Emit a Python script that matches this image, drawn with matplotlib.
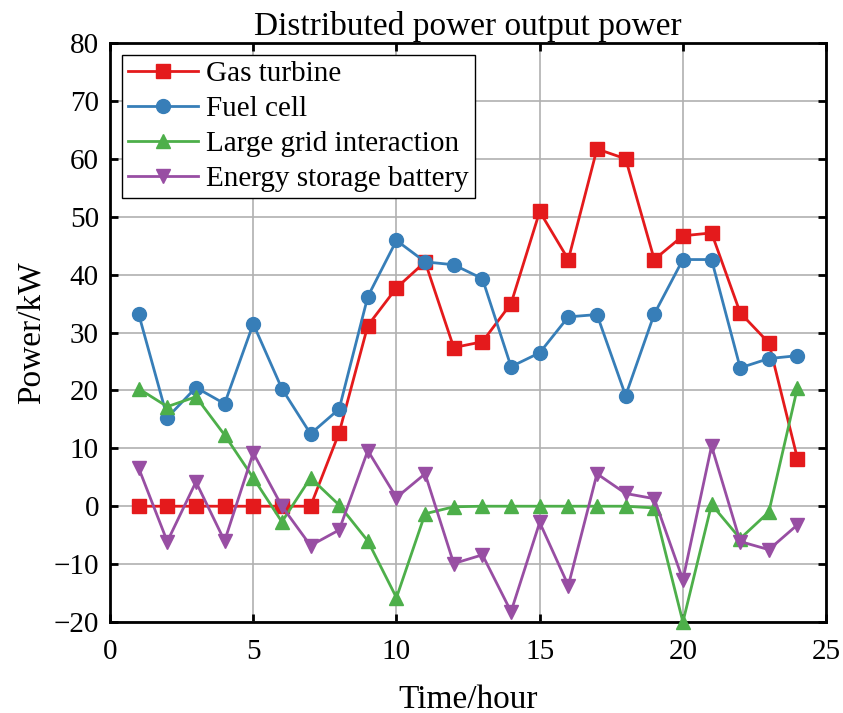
import matplotlib
matplotlib.use("Agg")
import matplotlib.pyplot as plt

hours = list(range(1, 25))
gas_turbine = [0, 0, 0, 0, 0, 0, 0, 12.7, 31.2, 37.7, 42.2, 27.4, 28.4, 35.0, 50.9, 42.6,
               61.7, 60.0, 42.6, 46.7, 47.2, 33.4, 28.2, 8.2]
fuel_cell = [33.2, 15.3, 20.5, 17.7, 31.5, 20.3, 12.5, 16.8, 36.2, 45.9, 42.2, 41.7, 39.3,
             24.1, 26.5, 32.7, 33.1, 19.1, 33.2, 42.6, 42.6, 23.9, 25.5, 26.0]
grid = [20.3, 17.2, 18.9, 12.3, 4.9, -2.7, 4.9, 0.2, -6.0, -15.8, -1.3, -0.1, 0, 0, 0, 0,
        0, 0, -0.3, -20.0, 0.3, -5.6, -1.0, 20.5]
battery = [6.6, -6.1, 4.2, -6.0, 9.2, 0.0, -6.8, -4.1, 9.6, 1.5, 5.6, -9.9, -8.4, -18.2,
           -2.8, -13.7, 5.6, 2.2, 1.3, -12.7, 10.4, -6.1, -7.5, -3.2]
labels = ["Gas turbine", "Fuel cell", "Large grid interaction", "Energy storage battery"]
colors = ["#e41a1c", "#377eb8", "#4daf4a", "#984ea3"]
markers = ["s", "o", "^", "v"]

plt.rcParams['font.family'] = ['Liberation Serif', 'DejaVu Serif']
plt.rcParams['mathtext.fontset'] = 'stix'

fig = plt.figure(figsize=(8.43, 7.13), dpi=100)
ax = fig.add_axes([0.1305, 0.1276, 0.8495, 0.8121])

for data, lab, c, m in zip([gas_turbine, fuel_cell, grid, battery], labels, colors, markers):
    ax.plot(hours, data, color=c, marker=m, markersize=10, linewidth=2, label=lab, clip_on=False, zorder=3)

ax.set_xlim(0, 25)
ax.set_ylim(-20, 80)
ax.set_xticks([0, 5, 10, 15, 20, 25])
ax.set_yticks(range(-20, 81, 10))
ax.grid(True, color="#b0b0b0", linewidth=1.2)
ax.set_axisbelow(True)
ax.tick_params(direction="in", length=6, width=2, labelsize=21, top=True, right=True, pad=8)
ax.tick_params(axis="x", pad=12)
for s in ax.spines.values():
    s.set_linewidth(2)
ax.set_xlabel("Time/hour", fontsize=24, labelpad=14)
ax.set_ylabel("Power/kW", fontsize=24, labelpad=4)
ax.set_title("Distributed power output power", fontsize=24, pad=6)
leg = ax.legend(loc="upper left", fontsize=21, frameon=True, fancybox=False, edgecolor="black",
                framealpha=1, borderpad=0.2, labelspacing=0.3, handlelength=2.4, handletextpad=0.3,
                borderaxespad=0.4)
leg.get_frame().set_linewidth(1.0)

fig.savefig("out.png", dpi=100)
